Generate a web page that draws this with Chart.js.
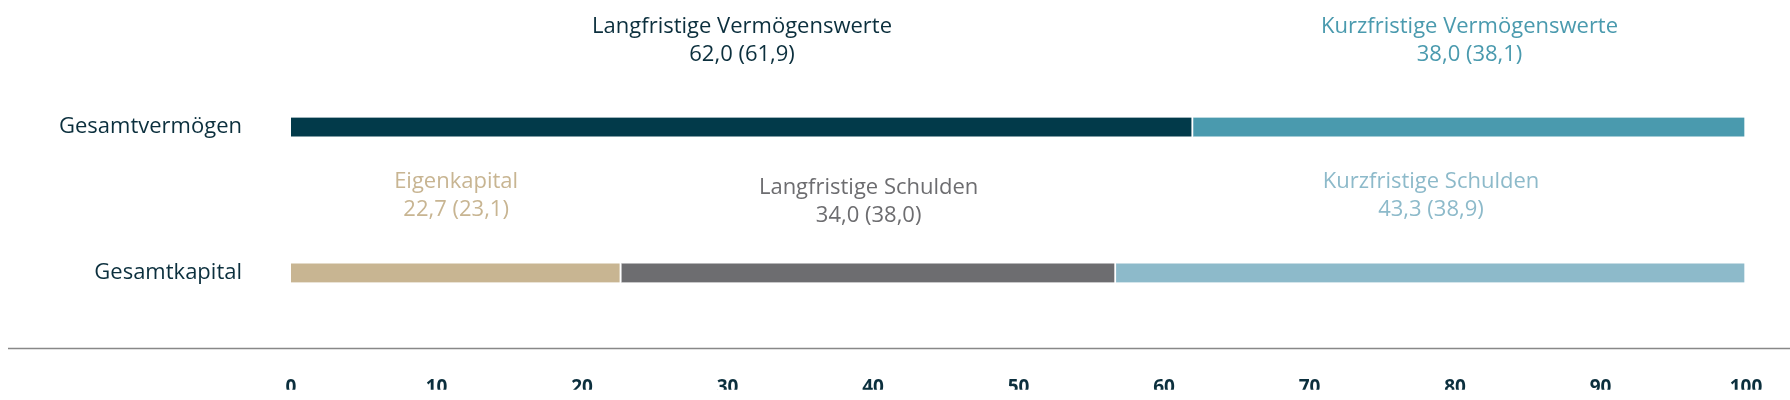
<!DOCTYPE html>
<html><head><meta charset="utf-8">
<script src="https://cdn.jsdelivr.net/npm/chart.js@4"></script>
<style>html,body{margin:0;padding:0;background:#fff}#w{width:1790px;height:400px}</style>
</head><body><div id="w"><canvas id="c"></canvas></div>
<script>
const categories = ["Gesamtvermögen", "Gesamtkapital"];
const segmentNames = ["Langfristige Vermögenswerte", "Kurzfristige Vermögenswerte", "Eigenkapital", "Langfristige Schulden", "Kurzfristige Schulden"];
const segmentRow = [0, 0, 1, 1, 1];
const segmentValues = [62.0, 38.0, 22.7, 34.0, 43.3];
const previousValues = ["61,9", "38,1", "23,1", "38,0", "38,9"];
const segmentColors = ["#023a4a", "#4a9aae", "#c8b592", "#6d6d70", "#8dbaca"];
const xTicks = [0, 10, 20, 30, 40, 50, 60, 70, 80, 90, 100];
const FONT = "'Open Sans', 'Noto Sans', sans-serif";

const datasets = segmentNames.map((n, i) => ({
  label: n,
  data: categories.map((_, r) => r === segmentRow[i] ? segmentValues[i] : null),
  backgroundColor: segmentColors[i],
  borderColor: "#fff",
  borderWidth: {left: 0, right: 2, top: 0, bottom: 0},
  borderSkipped: false,
  barThickness: 19
}));

const labelPlugin = {
  id: "segLabels",
  afterDatasetsDraw(chart) {
    const ctx = chart.ctx, xs = chart.scales.x;
    const offs = [0, 0, 0, 6, 0];
    const tops = [27, 182];
    let cum = [0, 0];
    segmentNames.forEach((n, i) => {
      const r = segmentRow[i];
      const start = cum[r], end = start + segmentValues[i];
      cum[r] = end;
      const cx = (xs.getPixelForValue(start) + xs.getPixelForValue(end)) / 2;
      const y = tops[r] + offs[i];
      ctx.save();
      ctx.fillStyle = segmentColors[i] === "#023a4a" ? "#0b2f3d" : segmentColors[i];
      ctx.font = "22px " + FONT;
      ctx.textAlign = "center"; ctx.textBaseline = "middle";
      ctx.fillText(n, cx, y);
      ctx.fillText(segmentValues[i].toFixed(1).replace(".", ",") + " (" + previousValues[i] + ")", cx, y + 28);
      ctx.restore();
    });
    ctx.save();
    ctx.strokeStyle = "#888"; ctx.lineWidth = 1.5;
    ctx.beginPath(); ctx.moveTo(8, 348.5); ctx.lineTo(1790, 348.5); ctx.stroke();
    ctx.restore();
  }
};

new Chart(document.getElementById("c"), {
  type: "bar",
  data: {labels: categories, datasets},
  options: {
    indexAxis: "y", responsive: true, maintainAspectRatio: false, animation: false,
    layout: {padding: {top: 14, right: 44, left: 0, bottom: 0}},
    plugins: {legend: {display: false}, tooltip: {enabled: false}},
    scales: {
      x: {stacked: true, min: 0, max: 100,
        afterBuildTicks(s) { s.ticks = xTicks.map(v => ({value: v})); },
        afterFit(s) { s.height = 44; },
        grid: {display: false}, border: {display: false},
        ticks: {padding: 22, color: "#0b2f3d", font: {family: FONT, size: 19, weight: "bold"}}},
      y: {stacked: true,
        afterFit(s) { s.width = 291; },
        grid: {display: false}, border: {display: false},
        ticks: {padding: 41, color: "#0b2f3d", font: {family: FONT, size: 22}}}
    }
  },
  plugins: [labelPlugin]
});
</script></body></html>
